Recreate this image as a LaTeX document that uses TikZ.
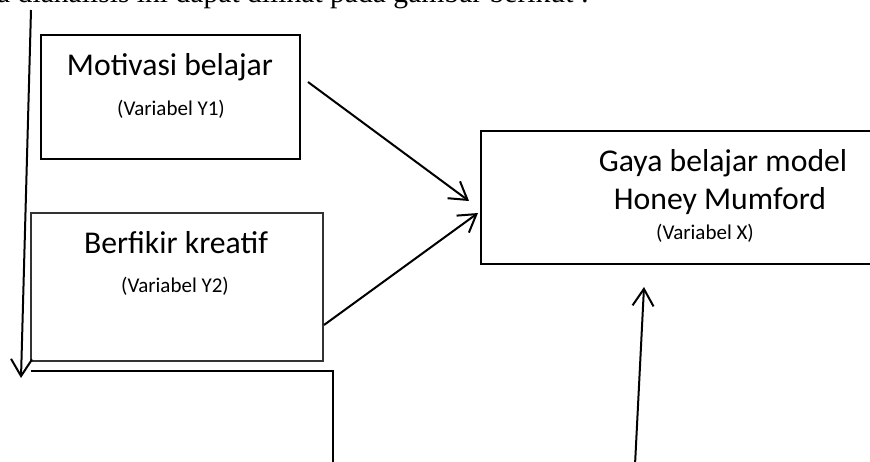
\documentclass[tikz,border=0pt]{standalone}
\usepackage{fontspec}
\setmainfont{Carlito}
\newfontfamily\introfont{Liberation Serif}
\usetikzlibrary{arrows.meta,positioning}

\begin{document}
\begin{tikzpicture}[x=1pt, y=-1pt,
    box/.style={draw, line width=2pt, inner sep=0pt},
    big/.style={font=\fontsize{31.7}{38}\selectfont, anchor=base, inner sep=0pt},
    small/.style={font=\fontsize{21}{25}\selectfont, anchor=base, inner sep=0pt},
    arr/.style={line width=2pt, -{Straight Barb[length=17pt, width=21pt]}}]
\useasboundingbox (0,0) rectangle (870,461);
\clip (0,0) rectangle (870,461);
% cut-off sentence above the figure
\node[anchor=base west, inner sep=0pt, font=\introfont\fontsize{29.6}{34}\selectfont] (intro) at (-3,2)
  {a dianalisis ini dapat dilihat pada gambar berikut :};
% boxes
\node[box, minimum width=259pt, minimum height=124pt] (y1) at (170.5,97) {};
\node[box, draw=black!80, line width=1.6pt, minimum width=292pt, minimum height=148pt] (y2) at (177,287) {};
\node[box, minimum width=419pt, minimum height=133pt] (x) at (690.5,197.5) {};
\coordinate (zl) at (31,371);
\coordinate (zr) at (333,470);
\draw[line width=2pt] (zl) -| (zr);
% texts
\node[big]   (y1name) at (170,75)  {Motivasi belajar};
\node[small] (y1var)  at (171,115) {(Variabel Y1)};
\node[big]   (y2name) at (176,253) {Berfikir kreatif};
\node[small] (y2var)  at (175,292) {(Variabel Y2)};
\node[big]   (xname1) at (723,171) {Gaya belajar model};
\node[big]   (xname2) at (720,209) {Honey Mumford};
\node[small] (xvar)   at (705,239) {(Variabel X)};
% arrows
\coordinate (y1out) at (308,82);
\coordinate (x1in)  at (469,201);
\coordinate (y2out) at (324,325);
\coordinate (x2in)  at (478,213);
\coordinate (lefttop) at (31,10);
\coordinate (leftend) at (21,378);
\coordinate (upfoot)  at (635,465);
\coordinate (xbelow)  at (644,287);
\draw[arr] (y1out) -- (x1in);
\draw[arr] (y2out) -- (x2in);
\draw[arr] (lefttop) -- (leftend);
\draw[arr] (upfoot) -- (xbelow);
\end{tikzpicture}
\end{document}
